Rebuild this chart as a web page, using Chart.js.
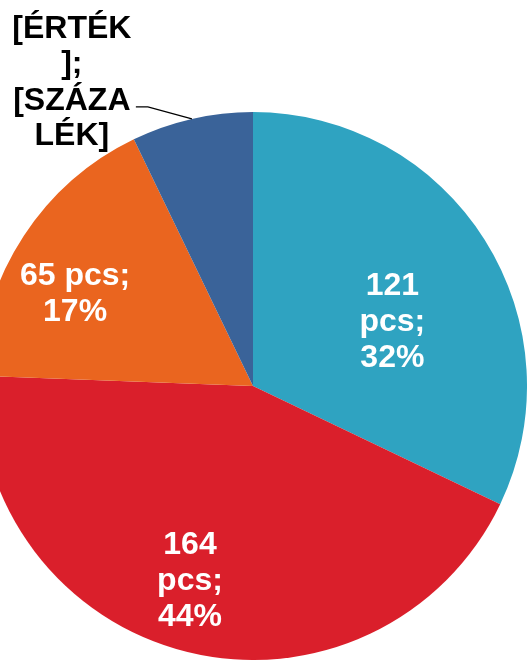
<!DOCTYPE html>
<html>
<head>
<meta charset="utf-8">
<script src="https://cdn.jsdelivr.net/npm/chart.js@4/dist/chart.umd.min.js"></script>
<style>
  html, body { margin: 0; padding: 0; background: #fff; overflow: hidden; }
  #wrap { position: absolute; left: -21px; top: 0; width: 548px; height: 660px; }
</style>
</head>
<body>
<div id="wrap"><canvas id="pie"></canvas></div>
<script>
// Datos del gráfico
const categorias = ['A', 'B', 'C', 'D'];
const valores = [121, 164, 65, 27];
const porcentajes = ['32%', '44%', '17%', '7%'];
const colores = ['#2FA3C1', '#DA1F2B', '#EA651F', '#3A6399'];

// Etiquetas de cada sector (la última va fuera, con línea guía)
const etiquetas = [
    ['121', 'pcs;', porcentajes[0]],
    ['164', 'pcs;', porcentajes[1]],
    ['65 pcs;', porcentajes[2]],
    ['[ÉRTÉK', '];', '[SZÁZA', 'LÉK]']
];

// posición de la etiqueta: fracción del radio y giro respecto al ángulo medio
const posEtiqueta = [
    { r: 0.56, giro: 7.5 },
    { r: 0.75, giro: 4 },
    { r: 0.73, giro: -6 },
    null
];

const fuente = 'bold 32px "Liberation Sans", Arial, sans-serif';

const pluginEtiquetas = {
    id: 'etiquetas',
    afterDatasetsDraw(chart) {
        const ctx = chart.ctx;
        const arcos = chart.getDatasetMeta(0).data;
        ctx.save();
        ctx.font = fuente;
        ctx.textAlign = 'center';
        ctx.textBaseline = 'middle';
        arcos.forEach((arco, i) => {
            const lineas = etiquetas[i];
            const medio = (arco.startAngle + arco.endAngle) / 2;
            const pos = posEtiqueta[i];
            if (pos) {
                const ang = medio + pos.giro * Math.PI / 180;
                const x = arco.x + Math.cos(ang) * arco.outerRadius * pos.r;
                const y = arco.y + Math.sin(ang) * arco.outerRadius * pos.r;
                ctx.fillStyle = '#ffffff';
                const alto = 36;
                const y0 = y - (lineas.length - 1) * alto / 2;
                lineas.forEach((t, k) => ctx.fillText(t, x, y0 + k * alto));
            } else {
                // etiqueta exterior con línea guía
                const px = arco.x + Math.cos(medio) * arco.outerRadius;
                const py = arco.y + Math.sin(medio) * arco.outerRadius;
                const cx = px - 44, cy = py - 12;
                const fx = cx - 12;
                ctx.strokeStyle = '#000000';
                ctx.lineWidth = 1.3;
                ctx.beginPath();
                ctx.moveTo(px, py);
                ctx.lineTo(cx, cy);
                ctx.lineTo(fx, cy);
                ctx.stroke();
                ctx.fillStyle = '#000000';
                const lx = fx - 64;
                const ys = [cy - 78, cy - 43, cy - 6, cy + 29];
                lineas.forEach((t, k) => ctx.fillText(t, lx, ys[k]));
            }
        });
        ctx.restore();
    }
};

const configPie = {
    type: 'pie',
    data: {
        labels: categorias,
        datasets: [{
            data: valores,
            backgroundColor: colores,
            borderWidth: 0
        }]
    },
    options: {
        responsive: true,
        maintainAspectRatio: false,
        animation: false,
        layout: { padding: { top: 112, bottom: 0, left: 0, right: 0 } },
        plugins: {
            legend: { display: false },
            tooltip: { enabled: false }
        }
    },
    plugins: [pluginEtiquetas]
};

const pieChart = new Chart(document.getElementById('pie'), configPie);
</script>
</body>
</html>
